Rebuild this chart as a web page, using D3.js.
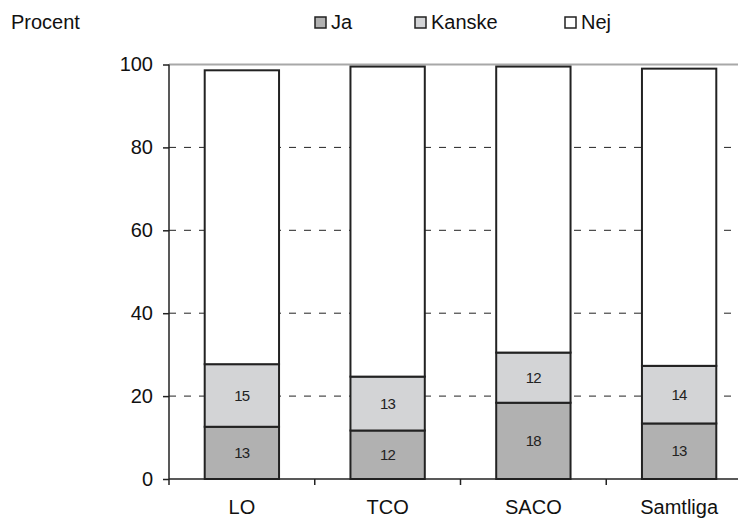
<!DOCTYPE html>
<html><head><meta charset="utf-8">
<script src="https://cdn.jsdelivr.net/npm/d3@7"></script>
<style>
html,body{margin:0;padding:0;background:#fff;}
svg{display:block;font-family:"Liberation Sans",Arial,sans-serif;}
</style></head>
<body>
<svg id="c" width="738" height="519"></svg>
<script>
const categories = ["LO", "TCO", "SACO", "Samtliga"];
const ja = [12.6, 11.7, 18.4, 13.4];
const kanske = [15.1, 13.0, 12.1, 13.9];
const nej = [70.9, 74.8, 69.0, 71.7];
const seriesNames = ["Ja", "Kanske", "Nej"];
const seriesColors = ["#b1b1b1", "#d3d4d6", "#ffffff"];
const yTicks = [0, 20, 40, 60, 80, 100];
const labelled = [true, true, false];

const svg = d3.select("#c");
const x = d3.scaleBand().domain(categories).range([169, 752]).paddingInner(0.49).paddingOuter(0.245);
const y = d3.scaleLinear().domain([0, 100]).range([479, 64.5]);

const rows = categories.map((c, i) => ({cat: c, Ja: ja[i], Kanske: kanske[i], Nej: nej[i]}));
const stack = d3.stack().keys(seriesNames)(rows);

// gridlines
svg.append("g").selectAll("line").data(yTicks.filter(t => t > 0 && t < 100)).join("line")
  .attr("x1", 169).attr("x2", 738).attr("y1", d => y(d)).attr("y2", d => y(d))
  .attr("stroke", "#222").attr("stroke-width", 1).attr("stroke-dasharray", "7,8");
svg.append("line").attr("x1", 169).attr("x2", 738).attr("y1", y(100)).attr("y2", y(100))
  .attr("stroke", "#a8a8a8").attr("stroke-width", 2);

// bars
stack.forEach((s, si) => {
  const g = svg.append("g");
  g.selectAll("rect").data(s).join("rect")
    .attr("x", d => x(d.data.cat)).attr("width", x.bandwidth())
    .attr("y", d => y(d[1])).attr("height", d => y(d[0]) - y(d[1]))
    .attr("fill", seriesColors[si]).attr("stroke", "#222").attr("stroke-width", 2);
  if (labelled[si]) {
    g.selectAll("text").data(s).join("text")
      .attr("x", d => x(d.data.cat) + x.bandwidth() / 2)
      .attr("y", d => (y(d[0]) + y(d[1])) / 2)
      .attr("dy", "0.35em").attr("text-anchor", "middle")
      .attr("font-size", 15).attr("letter-spacing", -0.8).attr("fill", "#222")
      .text(d => Math.round(d[1] - d[0]));
  }
});

// y axis
const yAxis = svg.append("g").attr("transform", "translate(169,0)")
  .call(d3.axisLeft(y).tickValues(yTicks).tickSize(6).tickPadding(10).tickFormat(d3.format("d")));
yAxis.select(".domain").attr("stroke", "#222").attr("stroke-width", 1.5).attr("d", `M0,${y(0)}V${y(100)}`);
yAxis.selectAll(".tick line").attr("stroke", "#222").attr("stroke-width", 1.5);
yAxis.selectAll(".tick text").attr("font-size", 20).attr("fill", "#111").attr("font-family", "Liberation Sans, Arial, sans-serif");

// x axis
const xg = svg.append("g").attr("transform", `translate(0,${y(0)})`);
xg.append("line").attr("x1", 169).attr("x2", 738).attr("stroke", "#222").attr("stroke-width", 1.5);
const bounds = categories.map(c => x(c) - x.step() * x.paddingInner() / 2).concat([x(categories[categories.length-1]) + x.bandwidth() + x.step() * x.paddingInner() / 2]);
xg.selectAll("line.tk").data(bounds).join("line").attr("class", "tk")
  .attr("x1", d => d).attr("x2", d => d).attr("y1", 0).attr("y2", 6)
  .attr("stroke", "#222").attr("stroke-width", 1.5);
xg.selectAll("text").data(categories).join("text")
  .attr("x", d => x(d) + x.bandwidth() / 2).attr("y", 35)
  .attr("text-anchor", "middle").attr("font-size", 20).attr("fill", "#111")
  .text(d => d);

// title
svg.append("text").attr("x", 11).attr("y", 29).attr("font-size", 20).attr("fill", "#111").text("Procent");

// legend
const legX = [315, 415, 565];
const leg = svg.append("g");
seriesNames.forEach((n, i) => {
  leg.append("rect").attr("x", legX[i]).attr("y", 17).attr("width", 11).attr("height", 11)
    .attr("fill", seriesColors[i]).attr("stroke", "#222").attr("stroke-width", 1.5);
  leg.append("text").attr("x", legX[i] + 16).attr("y", 28.5).attr("font-size", 20).attr("fill", "#111").text(n);
});
</script>
</body></html>
